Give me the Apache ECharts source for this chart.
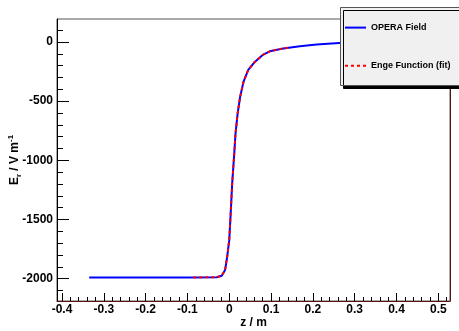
<!DOCTYPE html>
<html>
<head>
<meta charset="utf-8">
<script src="https://cdn.jsdelivr.net/npm/echarts@6/dist/echarts.min.js"></script>
<style>
  html, body { margin: 0; padding: 0; background: #fff; }
  #chart { width: 459px; height: 331px; }
</style>
</head>
<body>
<div id="chart"></div>
<script>
// OPERA field map, z in m, E_r in V/m
const zField = [-0.335, -0.2, -0.1, -0.03, -0.018, -0.01, -0.005, 0, 0.003, 0.007, 0.012, 0.015, 0.02, 0.026, 0.034, 0.045, 0.061, 0.08, 0.097, 0.129, 0.169, 0.209, 0.263, 0.3, 0.335];
const eField = [-1990, -1990, -1990, -1988, -1976, -1928, -1816, -1675, -1478, -1196, -940, -774, -605, -464, -338, -239, -169, -110, -79, -56, -36, -22, -8, -4, -1];

// Enge function fit
const zFit = [-0.086, -0.03, -0.018, -0.01, -0.005, 0, 0.003, 0.007, 0.012, 0.015, 0.02, 0.026, 0.034, 0.045, 0.061, 0.08, 0.097, 0.12, 0.145];
const eFit = [-1990, -1988, -1976, -1928, -1816, -1675, -1478, -1196, -940, -774, -605, -464, -338, -239, -169, -110, -79, -60, -47];

const xMajor = [-0.4, -0.3, -0.2, -0.1, 0, 0.1, 0.2, 0.3, 0.4, 0.5];
const xMinor = [-0.38, -0.36, -0.34, -0.32, -0.28, -0.26, -0.24, -0.22, -0.18, -0.16, -0.14, -0.12, -0.08, -0.06, -0.04, -0.02,
  0.02, 0.04, 0.06, 0.08, 0.12, 0.14, 0.16, 0.18, 0.22, 0.24, 0.26, 0.28, 0.32, 0.34, 0.36, 0.38, 0.42, 0.44, 0.46, 0.48, 0.52];
const yMajor = [-2000, -1500, -1000, -500, 0];
const yMinor = [-2100, -1900, -1800, -1700, -1600, -1400, -1300, -1200, -1100, -900, -800, -700, -600, -400, -300, -200, -100, 100];

const font = "'Liberation Sans', Arial, sans-serif";
const xMin = -0.412;
const xMax = 0.528;
const yMin = -2189;
const yMax = 194;

const chart = echarts.init(document.getElementById('chart'));

chart.setOption({
  animation: false,
  textStyle: { fontFamily: font },
  grid: {
    left: 57,
    right: 9,
    top: 19,
    bottom: 30,
    containLabel: false,
    outerBoundsMode: 'none',
    show: true,
    borderColor: '#555',
    borderWidth: 1,
  },
  xAxis: [
    {
      type: 'value',
      position: 'bottom',
      min: xMin,
      max: xMax,
      name: 'z / m',
      nameLocation: 'middle',
      nameGap: 16,
      nameMoveOverlap: false,
      nameTextStyle: { fontFamily: font, fontWeight: 'bold', fontSize: 12, color: '#000' },
      axisLine: { onZero: false, lineStyle: { color: '#5a1414', width: 1 } },
      axisTick: { inside: true, length: 8, customValues: xMajor, lineStyle: { color: '#000' } },
      axisLabel: {
        customValues: xMajor,
        margin: 3,
        formatter: (v) => String(v),
        fontFamily: font,
        fontWeight: 'bold',
        fontSize: 12,
        color: '#000',
      },
      splitLine: { show: false },
    },
    {
      type: 'value',
      position: 'bottom',
      min: xMin,
      max: xMax,
      axisLine: { show: false, onZero: false },
      axisTick: { inside: true, length: 4, customValues: xMinor, lineStyle: { color: '#000' } },
      axisLabel: { show: false },
      splitLine: { show: false },
    },
  ],
  yAxis: [
    {
      type: 'value',
      position: 'left',
      min: yMin,
      max: yMax,
      name: 'E{sub|r} / V m{sup|-1}',
      nameLocation: 'middle',
      nameRotate: 90,
      nameGap: 34,
      nameMoveOverlap: false,
      nameTextStyle: {
        fontFamily: font,
        fontWeight: 'bold',
        fontSize: 12,
        color: '#000',
        lineHeight: 16,
        rich: {
          sub: { fontFamily: font, fontWeight: 'bold', fontSize: 8, color: '#000', verticalAlign: 'bottom', lineHeight: 16 },
          sup: { fontFamily: font, fontWeight: 'bold', fontSize: 8, color: '#000', verticalAlign: 'top', lineHeight: 16 },
        },
      },
      axisLine: { onZero: false, lineStyle: { color: '#000', width: 1 } },
      axisTick: { inside: true, length: 12, customValues: yMajor, lineStyle: { color: '#000' } },
      axisLabel: {
        customValues: yMajor,
        margin: 4,
        formatter: (v) => String(v),
        fontFamily: font,
        fontWeight: 'bold',
        fontSize: 12,
        color: '#000',
      },
      splitLine: { show: false },
    },
    {
      type: 'value',
      position: 'left',
      min: yMin,
      max: yMax,
      axisLine: { show: false, onZero: false },
      axisTick: { inside: true, length: 6, customValues: yMinor, lineStyle: { color: '#000' } },
      axisLabel: { show: false },
      splitLine: { show: false },
    },
    {
      type: 'value',
      position: 'right',
      min: yMin,
      max: yMax,
      axisLine: { show: true, onZero: false, lineStyle: { color: '#5a1414', width: 1 } },
      axisTick: { show: false },
      axisLabel: { show: false },
      splitLine: { show: false },
    },
  ],
  legend: {
    orient: 'vertical',
    left: 344,
    top: 22,
    padding: 0,
    itemWidth: 21,
    itemHeight: 14,
    itemGap: 27,
    z: 100,
    itemStyle: { color: 'rgba(0,0,0,0)', borderWidth: 0, opacity: 0 },
    textStyle: { fontFamily: font, fontWeight: 'bold', fontSize: 9, color: '#000' },
    data: ['OPERA Field', 'Enge Function (fit)'],
  },
  graphic: [
    {
      type: 'rect',
      left: 340,
      top: 7,
      z: 90,
      shape: { width: 125, height: 78 },
      style: {
        fill: '#f0f0f0',
        stroke: '#555',
        lineWidth: 1,
        shadowColor: '#000',
        shadowOffsetX: 3,
        shadowOffsetY: 3,
        shadowBlur: 0,
      },
    },
  ],
  series: [
    {
      name: 'OPERA Field',
      type: 'line',
      xAxisIndex: 0,
      yAxisIndex: 0,
      symbol: 'none',
      data: zField.map((z, i) => [z, eField[i]]),
      lineStyle: { color: '#0000ff', width: 2 },
      itemStyle: { color: '#0000ff' },
    },
    {
      name: 'Enge Function (fit)',
      type: 'line',
      xAxisIndex: 0,
      yAxisIndex: 0,
      symbol: 'none',
      data: zFit.map((z, i) => [z, eFit[i]]),
      lineStyle: { color: '#ff0000', width: 2, type: [3, 3] },
      itemStyle: { color: '#ff0000' },
    },
  ],
});
</script>
</body>
</html>
